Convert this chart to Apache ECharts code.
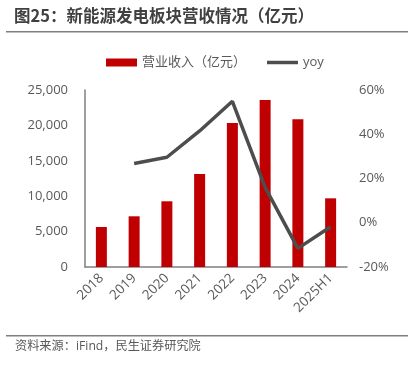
<!DOCTYPE html>
<html>
<head>
<meta charset="utf-8">
<script src="https://cdn.jsdelivr.net/npm/echarts@6/dist/echarts.min.js"></script>
<style>
  html, body { margin: 0; padding: 0; background: #fff; }
  #chart { width: 408px; height: 366px; }
</style>
</head>
<body>
<div id="chart"></div>
<script>
  // 数据
  const years = ['2018', '2019', '2020', '2021', '2022', '2023', '2024', '2025H1'];
  const revenue = [5650, 7160, 9280, 13130, 20340, 23590, 20860, 9700];
  const yoy = [null, 26.8, 29.6, 41.5, 54.9, 16.0, -11.6, -1.8];
  const leftTicks = [0, 25000, 5000];
  const rightTicks = [-20, 60, 20];

  const font = '"Open Sans", "Noto Sans CJK SC", sans-serif';
  const chart = echarts.init(document.getElementById('chart'));

  const options = {
    animation: false,
    textStyle: { fontFamily: font },
    graphic: [
      {
        type: 'text', left: 14, top: 7,
        style: { text: '图25：新能源发电板块营收情况（亿元）', fontSize: 16.5, fontWeight: 'bold', fill: '#404040', fontFamily: '"Noto Sans CJK SC", sans-serif' }
      },
      { type: 'rect', shape: { x: 6, y: 31, width: 402, height: 1.5 }, style: { fill: '#7f7f7f' } },
      { type: 'rect', shape: { x: 6, y: 335, width: 402, height: 1.5 }, style: { fill: '#7f7f7f' } },
      {
        type: 'text', left: 15, top: 340,
        style: { text: '资料来源：iFind，民生证券研究院', fontSize: 12.2, fill: '#595959', fontFamily: font }
      }
    ],
    legend: {
      top: 51,
      left: 101,
      itemGap: 21,
      textStyle: { fontSize: 13, color: '#595959', fontFamily: font },
      data: [
        { name: '营业收入（亿元）', icon: 'rect', itemStyle: { color: '#c00000' } },
        { name: 'yoy', icon: 'path://M0,0 L31,0 L31,3.5 L0,3.5 Z', itemStyle: { color: '#4d4d4d' } }
      ],
      itemWidth: 31,
      itemHeight: 8
    },
    grid: { left: 85, right: 61, top: 90, bottom: 99 },
    xAxis: {
      type: 'category',
      data: years,
      axisLine: { lineStyle: { color: '#7f7f7f', width: 1.5 } },
      axisTick: { show: false },
      axisLabel: { rotate: 45, margin: 9, fontSize: 13.5, color: '#595959', fontFamily: font }
    },
    yAxis: [
      {
        type: 'value',
        min: leftTicks[0], max: leftTicks[1], interval: leftTicks[2],
        axisLine: { show: true, lineStyle: { color: '#7f7f7f', width: 1.5 } },
        axisTick: { show: false },
        splitLine: { show: false },
        axisLabel: {
          margin: 17, fontSize: 13, color: '#595959', fontFamily: font,
          formatter: (v) => v.toLocaleString('en-US')
        }
      },
      {
        type: 'value',
        min: rightTicks[0], max: rightTicks[1], interval: rightTicks[2],
        axisLine: { show: false },
        axisTick: { show: false },
        splitLine: { show: false },
        axisLabel: { margin: 12, fontSize: 13, color: '#595959', fontFamily: font, formatter: '{value}%' }
      }
    ],
    series: [
      {
        name: '营业收入（亿元）',
        type: 'bar',
        data: revenue,
        barWidth: 11,
        itemStyle: { color: '#c00000' }
      },
      {
        name: 'yoy',
        type: 'line',
        yAxisIndex: 1,
        data: yoy,
        symbol: 'none',
        lineStyle: { color: '#4d4d4d', width: 3.5 },
        itemStyle: { color: '#4d4d4d' }
      }
    ]
  };
  chart.setOption(options);
</script>
</body>
</html>
